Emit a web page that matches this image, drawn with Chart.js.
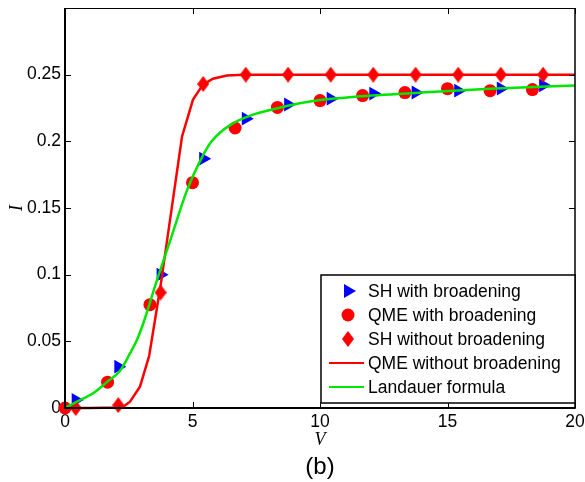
<!DOCTYPE html>
<html>
<head>
<meta charset="utf-8">
<script src="https://cdn.jsdelivr.net/npm/chart.js@4/dist/chart.umd.min.js"></script>
<style>
  html, body { margin: 0; padding: 0; background: #fff; }
  #wrap { width: 585px; height: 482px; }
</style>
</head>
<body>
<div id="wrap"><canvas id="c" width="585" height="482"></canvas></div>
<script>
// Bias voltages used by the SH simulations
const vSH = [0.42, 2.09, 3.75, 5.42, 7.09, 8.75, 10.42, 12.09, 13.75, 15.42, 17.09, 18.75];
// SH current with level broadening
const iSHBroad = [0.006, 0.031, 0.100, 0.187, 0.217, 0.2276, 0.232, 0.2358, 0.2366, 0.238, 0.2396, 0.242];
// SH current without broadening
const iSHNoBroad = [0.0, 0.0022, 0.0866, 0.243, 0.25, 0.25, 0.25, 0.25, 0.25, 0.25, 0.25, 0.25];

// Bias voltages used by the QME runs with broadening
const vQME = [0, 1.67, 3.33, 5.0, 6.67, 8.33, 10.0, 11.67, 13.33, 15.0, 16.67, 18.33];
const iQMEBroad = [0.0, 0.0194, 0.0775, 0.169, 0.21, 0.2254, 0.2306, 0.2343, 0.2366, 0.2395, 0.238, 0.2388];

// QME without broadening (solid red curve)
const vQMELine = [0, 1.0, 2.0, 2.27, 2.55, 2.94, 3.3, 3.75, 4.59, 5.02, 5.41, 5.8, 6.35, 7.0, 10, 15, 20];
const iQMELine = [0, 0, 0.0003, 0.0008, 0.0047, 0.016, 0.039, 0.092, 0.2037, 0.2313, 0.2425, 0.247, 0.2493, 0.2499, 0.25, 0.25, 0.25];

// Landauer formula (solid green curve)
const vLandauer = [0, 0.59, 1.1, 1.65, 2.16, 2.55, 2.82, 3.06, 3.6, 4.15, 4.78, 5.29, 5.75, 6.5, 7.37, 8.3, 9.2, 10.0, 11.45, 14.0, 16.67, 20];
const iLandauer = [0, 0.006, 0.011, 0.0196, 0.028, 0.041, 0.051, 0.063, 0.0955, 0.127, 0.163, 0.185, 0.200, 0.2125, 0.220, 0.2246, 0.2285, 0.231, 0.2336, 0.2366, 0.2394, 0.2418];

// Axis ticks
const xTickValues = [0, 5, 10, 15, 20];
const yTickValues = [0, 0.05, 0.1, 0.15, 0.2, 0.25, 0.3];

const pairs = (xs, ys) => xs.map((x, i) => ({ x: x, y: ys[i] }));

const RED = '#ff0000', BLUE = '#0000ff', GREEN = '#00e600';
const SANS = '"Liberation Sans", Arial, Helvetica, sans-serif';
const SERIF = '"Liberation Serif", "Times New Roman", serif';

// Tall diamond marker (Matlab-style 'd')
function makeDiamond(w, h, color) {
  const cv = document.createElement('canvas');
  cv.width = w; cv.height = h;
  const g = cv.getContext('2d');
  g.fillStyle = color;
  g.beginPath();
  g.moveTo(w / 2, 0); g.lineTo(w, h / 2); g.lineTo(w / 2, h); g.lineTo(0, h / 2);
  g.closePath(); g.fill();
  return cv;
}
const diamond = makeDiamond(12, 16, RED);

// Frame with inward ticks on all four sides
const framePlugin = {
  id: 'frame',
  afterDraw(chart) {
    const { ctx, chartArea: a, scales } = chart;
    const L = 6;
    ctx.save();
    ctx.strokeStyle = '#000';
    // ticks
    ctx.lineWidth = 1;
    scales.x.ticks.forEach(t => {
      const px = Math.round(scales.x.getPixelForValue(t.value)) + 0.5;
      ctx.beginPath();
      ctx.moveTo(px, a.bottom); ctx.lineTo(px, a.bottom - L);
      ctx.moveTo(px, a.top); ctx.lineTo(px, a.top + L);
      ctx.stroke();
    });
    scales.y.ticks.forEach(t => {
      const py = Math.round(scales.y.getPixelForValue(t.value)) + 0.5;
      ctx.beginPath();
      ctx.moveTo(a.left, py); ctx.lineTo(a.left + L, py);
      ctx.moveTo(a.right, py); ctx.lineTo(a.right - L, py);
      ctx.stroke();
    });
    // box
    ctx.lineWidth = 1;
    ctx.beginPath(); ctx.moveTo(a.left, a.top + 0.5); ctx.lineTo(a.right, a.top + 0.5); ctx.stroke();
    ctx.lineWidth = 1.5;
    ctx.beginPath(); ctx.moveTo(a.right, a.top); ctx.lineTo(a.right, a.bottom); ctx.stroke();
    ctx.lineWidth = 2;
    ctx.beginPath(); ctx.moveTo(a.left, a.top); ctx.lineTo(a.left, a.bottom); ctx.stroke();
    ctx.beginPath(); ctx.moveTo(a.left - 1, a.bottom); ctx.lineTo(a.right + 0.75, a.bottom); ctx.stroke();
    ctx.restore();
  }
};

// Boxed legend in the lower-right corner of the plot area
const boxLegendPlugin = {
  id: 'boxLegend',
  afterDraw(chart) {
    const { ctx, chartArea: a } = chart;
    const ds = chart.data.datasets;
    const w = 254, h = 128;
    const right = a.right, bottom = a.bottom - 5;
    const left = right - w, top = bottom - h;
    ctx.save();
    ctx.fillStyle = '#fff';
    ctx.fillRect(left, top, w, h);
    ctx.strokeStyle = '#000';
    ctx.lineWidth = 1.5;
    ctx.strokeRect(left, top, w, h);
    ctx.font = '17.5px ' + SANS;
    ctx.textBaseline = 'middle';
    ctx.textAlign = 'left';
    ds.forEach((d, i) => {
      const y = top + 16 + i * 24;
      const mx = left + 27;
      if (d.showLine) {
        ctx.strokeStyle = d.borderColor;
        ctx.lineWidth = 2;
        ctx.beginPath(); ctx.moveTo(left + 8, y); ctx.lineTo(left + 43, y); ctx.stroke();
      } else if (d.pointStyle === 'triangle') {
        const r = d.pointRadius;
        ctx.fillStyle = d.backgroundColor;
        ctx.beginPath();
        ctx.moveTo(mx + r, y);
        ctx.lineTo(mx - r / 2, y - r * Math.sqrt(3) / 2);
        ctx.lineTo(mx - r / 2, y + r * Math.sqrt(3) / 2);
        ctx.closePath(); ctx.fill();
      } else if (d.pointStyle === 'circle') {
        ctx.fillStyle = d.backgroundColor;
        ctx.beginPath(); ctx.arc(mx, y, d.pointRadius, 0, Math.PI * 2); ctx.fill();
      } else {
        const img = d.pointStyle;
        ctx.drawImage(img, mx - img.width / 2, y - img.height / 2);
      }
      ctx.fillStyle = '#000';
      ctx.fillText(d.label, left + 47, y + 1);
    });
    ctx.restore();
  }
};

new Chart(document.getElementById('c'), {
  type: 'scatter',
  data: {
    datasets: [
      {
        label: 'SH with broadening',
        data: pairs(vSH, iSHBroad),
        showLine: false,
        pointStyle: 'triangle', rotation: 90, pointRadius: 8,
        backgroundColor: BLUE, borderWidth: 0, borderColor: BLUE,
        clip: false, order: 3
      },
      {
        label: 'QME with broadening',
        data: pairs(vQME, iQMEBroad),
        showLine: false,
        pointStyle: 'circle', pointRadius: 6.5,
        backgroundColor: RED, borderWidth: 0, borderColor: RED,
        clip: false, order: 4
      },
      {
        label: 'SH without broadening',
        data: pairs(vSH, iSHNoBroad),
        showLine: false,
        pointStyle: diamond, pointRadius: 8,
        backgroundColor: RED, borderWidth: 0, borderColor: RED,
        clip: false, order: 1
      },
      {
        label: 'QME without broadening',
        data: pairs(vQMELine, iQMELine),
        showLine: true, borderColor: RED, borderWidth: 2.5,
        pointRadius: 0, tension: 0, fill: false,
        clip: false, order: 2
      },
      {
        label: 'Landauer formula',
        data: pairs(vLandauer, iLandauer),
        showLine: true, borderColor: GREEN, borderWidth: 2.5,
        pointRadius: 0, cubicInterpolationMode: 'monotone', fill: false,
        clip: false, order: 0
      }
    ]
  },
  options: {
    responsive: false,
    animation: false,
    events: [],
    layout: { padding: { top: 6, right: 10, left: 0, bottom: 0 } },
    plugins: {
      legend: { display: false },
      tooltip: { enabled: false },
      title: {
        display: true,
        text: '(b)',
        position: 'bottom',
        fullSize: false,
        color: '#000',
        font: { family: SANS, size: 24, weight: 'normal', lineHeight: 1.2 },
        padding: { top: 0, bottom: 0 }
      }
    },
    scales: {
      x: {
        type: 'linear',
        min: 0, max: 20,
        afterBuildTicks: s => { s.ticks = xTickValues.map(v => ({ value: v })); },
        afterFit: s => { s.height = 45.2; s.paddingLeft = 0; s.paddingRight = 0; },
        grid: { display: false, drawTicks: false },
        border: { display: false },
        ticks: {
          color: '#000', padding: 4, maxRotation: 0,
          font: { family: SANS, size: 17.5 },
          callback: v => String(v)
        },
        title: {
          display: true, text: 'V', color: '#000',
          font: { family: SERIF, size: 18, style: 'italic', lineHeight: 1.2 },
          padding: { top: 0, bottom: 2.4 }
        }
      },
      y: {
        type: 'linear',
        min: 0, max: 0.3,
        afterBuildTicks: s => { s.ticks = yTickValues.map(v => ({ value: v })); },
        afterFit: s => { s.width = 65; s.paddingTop = 0; s.paddingBottom = 0; },
        grid: { display: false, drawTicks: false },
        border: { display: false },
        ticks: {
          color: '#000', padding: 4,
          font: { family: SANS, size: 17.5 },
          callback: v => (Math.abs(v - 0.3) < 1e-9 ? '' : String(+v.toFixed(2)))
        },
        title: {
          display: true, text: 'I', color: '#000',
          font: { family: SERIF, size: 18, style: 'italic', lineHeight: 1.2 },
          padding: { top: 6, bottom: 0 }
        }
      }
    }
  },
  plugins: [framePlugin, boxLegendPlugin]
});
</script>
</body>
</html>
